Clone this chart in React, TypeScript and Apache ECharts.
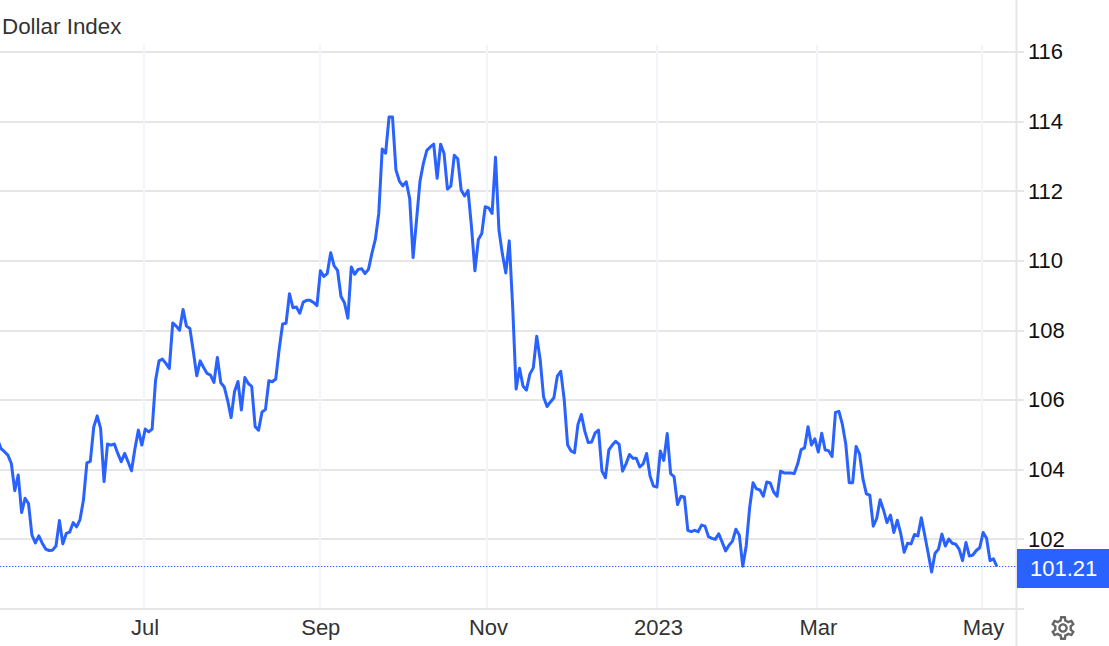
import React, { useEffect, useRef } from "react";
import * as echarts from "echarts";

const titleText = "Dollar Index";
const lastValue = 101.21;
const monthPositions = [42.49, 93.68, 142.52, 192.02, 238.6, 286.66];
const monthLabels = ["Jul", "Sep", "Nov", "2023", "Mar", "May"];
const yTickLabels = [102, 104, 106, 108, 110, 112, 114, 116];

const dollarIndex = [
  104.86, 104.6, 104.51, 104.41, 104.17, 103.39, 103.84, 102.76, 103.17, 103.02,
  102.11, 101.89, 102.09, 101.88, 101.71, 101.67, 101.68, 101.8, 102.53, 101.86,
  102.16, 102.2, 102.47, 102.35, 102.56, 103.12, 104.19, 104.23, 105.22, 105.54,
  105.18, 103.65, 104.73, 104.7, 104.73, 104.46, 104.22, 104.46, 104.22, 103.96,
  104.6, 105.13, 104.7, 105.16, 105.08, 105.16, 106.56, 107.12, 107.17, 107.05,
  106.9, 108.21, 108.12, 108.0, 108.6, 108.12, 108.05, 107.39, 106.69, 107.12,
  106.93, 106.76, 106.71, 106.5, 107.22, 106.49, 106.37, 105.98, 105.49, 106.24,
  106.53, 105.71, 106.64, 106.47, 106.39, 105.23, 105.13, 105.65, 105.72, 106.55,
  106.52, 106.6, 107.46, 108.18, 108.2, 109.05, 108.65, 108.67, 108.49, 108.81,
  108.86, 108.86, 108.8, 108.71, 109.71, 109.55, 109.63, 110.23, 109.85, 109.72,
  108.97, 108.79, 108.35, 109.82, 109.61, 109.75, 109.77, 109.63, 109.75, 110.21,
  110.61, 111.36, 113.21, 113.09, 114.13, 114.13, 112.61, 112.29, 112.15, 112.27,
  111.79, 110.09, 111.17, 112.28, 112.8, 113.17, 113.27, 113.35, 112.37, 113.35,
  113.09, 112.06, 112.15, 113.03, 112.93, 112.03, 111.86, 112.02, 110.98, 109.71,
  110.61, 110.78, 111.55, 111.52, 111.36, 112.97, 110.88, 110.19, 109.65, 110.57,
  108.67, 106.31, 106.91, 106.4, 106.28, 106.74, 106.92, 107.83, 107.16, 106.08,
  105.81, 105.94, 106.06, 106.68, 106.82, 106.01, 104.7, 104.53, 104.48, 105.29,
  105.58, 105.1, 104.77, 104.79, 105.05, 105.13, 103.95, 103.76, 104.56, 104.7,
  104.81, 104.72, 103.95, 104.16, 104.43, 104.32, 104.32, 104.07, 104.16, 104.46,
  103.81, 103.52, 103.49, 104.53, 104.26, 105.03, 103.88, 103.79, 102.99, 103.23,
  103.21, 102.25, 102.21, 102.25, 102.21, 102.4, 102.37, 102.07, 102.02, 101.99,
  102.15, 101.91, 101.66, 101.82, 101.94, 102.28, 102.11, 101.22, 101.8, 102.9,
  103.62, 103.44, 103.41, 103.23, 103.64, 103.61, 103.35, 103.23, 103.95, 103.9,
  103.9, 103.9, 103.88, 104.16, 104.57, 104.62, 105.23, 104.7, 104.88, 104.5,
  105.04, 104.56, 104.54, 104.37, 105.64, 105.67, 105.3, 104.73, 103.62, 103.62,
  104.66, 104.45, 103.73, 103.3, 103.26, 102.37, 102.59, 103.13, 102.83, 102.47,
  102.69, 102.19, 102.54, 102.16, 101.62, 101.88, 101.86, 102.13, 102.09, 102.61,
  102.11, 101.59, 101.05, 101.59, 101.71, 102.14, 101.8, 102.0, 101.88, 101.85,
  101.71, 101.38, 101.9, 101.51, 101.54, 101.67, 101.75, 102.19, 102.02, 101.38,
  101.43, 101.21,
];

const gearPath =
  "M19.43 12.98c.04-.32.07-.64.07-.98 0-.34-.03-.66-.07-.98l2.11-1.65c.19-.15.24-.42.12-.64l-2-3.46c-.09-.16-.26-.25-.44-.25-.06 0-.12.01-.17.03l-2.49 1c-.52-.4-1.08-.73-1.69-.98l-.38-2.65C14.46 2.18 14.25 2 14 2h-4c-.25 0-.46.18-.49.42l-.38 2.65c-.61.25-1.17.59-1.69.98l-2.49-1c-.06-.02-.12-.03-.18-.03-.17 0-.34.09-.43.25l-2 3.46c-.13.22-.07.49.12.64l2.11 1.65c-.04.32-.07.65-.07.98 0 .33.03.66.07.98l-2.11 1.65c-.19.15-.24.42-.12.64l2 3.46c.09.16.26.25.44.25.06 0 .12-.01.17-.03l2.49-1c.52.4 1.08.73 1.69.98l.38 2.65c.03.24.24.42.49.42h4c.25 0 .46-.18.49-.42l.38-2.65c.61-.25 1.17-.59 1.69-.98l2.49 1c.06.02.12.03.18.03.17 0 .34-.09.43-.25l2-3.46c.12-.22.07-.49-.12-.64l-2.11-1.65zm-1.98-1.71c.04.31.05.52.05.73 0 .21-.02.43-.05.73l-.14 1.13.89.7 1.08.84-.7 1.21-1.27-.51-1.04-.42-.9.68c-.43.32-.84.56-1.25.73l-1.06.43-.16 1.13-.2 1.35h-1.4l-.19-1.35-.16-1.13-1.06-.43c-.43-.18-.83-.41-1.23-.71l-.91-.7-1.06.43-1.27.51-.7-1.21 1.08-.84.89-.7-.14-1.13c-.03-.31-.05-.54-.05-.74s.02-.43.05-.73l.14-1.13-.89-.7-1.08-.84.7-1.21 1.27.51 1.04.42.9-.68c.43-.32.84-.56 1.25-.73l1.06-.43.16-1.13.2-1.35h1.39l.19 1.35.16 1.13 1.06.43c.43.18.83.41 1.23.71l.91.7 1.06-.43 1.27-.51.7 1.21-1.07.85-.89.7.14 1.13zM12 8c-2.21 0-4 1.79-4 4s1.79 4 4 4 4-1.79 4-4-1.79-4-4-4zm0 6c-1.1 0-2-.9-2-2s.9-2 2-2 2 .9 2 2-.9 2-2 2z";

const BLUE = "#2962ff";
const GRID = "#e6e6e6";
const FONT = "'Liberation Sans', Arial, sans-serif";

echarts.graphic.registerShape("gear", echarts.graphic.extendPath(gearPath, {}) as any);

export default function App() {
  const ref = useRef<HTMLDivElement>(null);
  useEffect(() => {
    document.body.style.margin = "0";
    const chart = echarts.init(ref.current!, null, { renderer: "svg" });
    chart.setOption({
      animation: false,
      backgroundColor: "#ffffff",
      grid: { left: 0, right: 93, top: 45, bottom: 37.4, containLabel: false },
      title: {
        text: titleText,
        left: 2,
        top: 15,
        padding: 0,
        textStyle: { fontFamily: FONT, fontSize: 22.4, fontWeight: "normal", color: "#333333" },
      },
      xAxis: {
        type: "value",
        min: 0.7,
        max: 296.57,
        axisLine: { show: true, onZero: false, lineStyle: { color: GRID, width: 2 } },
        axisTick: { show: false, customValues: monthPositions },
        axisLabel: {
          customValues: monthPositions,
          formatter: (v: number) => monthLabels[monthPositions.indexOf(v)] ?? "",
          color: "#333333",
          fontFamily: FONT,
          fontSize: 22,
          margin: 8,
          padding: [0, 0, 0, 3],
          hideOverlap: false,
          showMinLabel: true,
          showMaxLabel: true,
        },
        splitLine: { show: true, lineStyle: { color: "#f1f4f8", width: 2 } },
      },
      yAxis: {
        type: "value",
        position: "right",
        min: 100,
        max: 116.2,
        axisLine: { show: false },
        axisTick: {
          show: true,
          length: 8,
          customValues: [100, ...yTickLabels],
          lineStyle: { color: GRID, width: 2 },
        },
        axisLabel: {
          customValues: yTickLabels,
          color: "#111111",
          fontFamily: FONT,
          fontSize: 22,
          margin: 12,
        },
        splitLine: { show: true, lineStyle: { color: GRID, width: 2 } },
      },
      series: [
        {
          type: "line",
          data: dollarIndex.map((v, i) => [i, v]),
          showSymbol: false,
          symbol: "none",
          lineStyle: { color: BLUE, width: 3, join: "round" },
          markLine: {
            silent: true,
            symbol: "none",
            animation: false,
            data: [{ yAxis: lastValue }],
            lineStyle: { color: BLUE, width: 1.2, type: [1.3, 1.7] },
            label: {
              show: true,
              position: "end",
              distance: 0,
              offset: [1, 2],
              formatter: String(lastValue),
              backgroundColor: BLUE,
              color: "#ffffff",
              fontFamily: FONT,
              fontSize: 22,
              padding: [9, 13, 8, 13],
            },
          },
        },
      ],
      graphic: [
        {
          type: "line",
          shape: { x1: 1016.5, y1: 0, x2: 1016.5, y2: 646 },
          style: { stroke: GRID, lineWidth: 2 },
          z: 0,
        },
        {
          type: "gear",
          x: 1048.6,
          y: 613.6,
          scaleX: 1.2,
          scaleY: 1.2,
          style: { fill: "#666666" },
        },
      ],
    });
    return () => chart.dispose();
  }, []);
  return <div ref={ref} style={{ width: 1109, height: 646 }} />;
}
